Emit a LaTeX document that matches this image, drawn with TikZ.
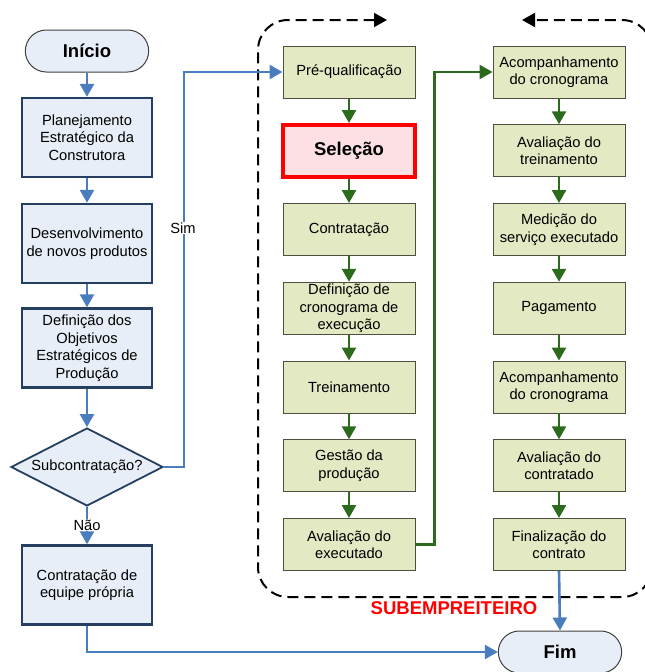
\documentclass[tikz,border=0pt]{standalone}
\usepackage{fontspec}
\setmainfont{Liberation Sans}
\usetikzlibrary{arrows.meta,shapes.geometric,shapes.misc}

\definecolor{leftfill}{HTML}{E8EEF7}
\definecolor{leftdraw}{HTML}{243F60}
\definecolor{flowblue}{HTML}{4A7DBE}
\definecolor{subfill}{HTML}{E3E9C3}
\definecolor{subdraw}{HTML}{4F4F3F}
\definecolor{flowgreen}{HTML}{2C6B1E}
\definecolor{selfill}{HTML}{FCE0E3}

\newcommand\flowtextstyle{\fontsize{14.7}{17.5}\selectfont}
\newcommand\flowtitlestyle{\fontsize{18.5}{22}\selectfont\bfseries}
\newcommand\leftx{87}
\newcommand\midx{349}
\newcommand\rightx{559}

\tikzset{
  leftbox/.style={draw=leftdraw, line width=2.4pt, fill=leftfill, minimum width=130pt,
    minimum height=79pt, align=center, inner sep=2pt, font=\flowtextstyle},
  terminal/.style={rounded rectangle, draw=black!75, line width=1pt, fill=leftfill,
    minimum width=130pt, minimum height=42pt, font=\flowtitlestyle},
  decision/.style={diamond, aspect=2, draw=leftdraw, line width=1.8pt, fill=leftfill,
    minimum width=152pt, minimum height=78pt, inner sep=0pt, font=\flowtextstyle},
  subbox/.style={draw=subdraw, line width=1pt, fill=subfill, minimum width=132pt,
    minimum height=52pt, align=center, inner sep=1pt, font=\flowtextstyle},
  selbox/.style={subbox, draw=red, line width=3.5pt, fill=selfill, font=\flowtitlestyle},
  bluearrow/.style={draw=flowblue, line width=2.6pt, -{Triangle[length=13pt,width=14pt]}},
  greenarrow/.style={draw=flowgreen, line width=2.6pt, -{Triangle[length=13pt,width=14pt]}},
  subframe/.style={draw=black, line width=2pt, dash pattern=on 11pt off 6pt, rounded corners=30pt,
    {Triangle[length=13pt,width=14pt]}-{Triangle[length=13pt,width=14pt]}},
  answer/.style={fill=white, inner sep=1pt, font=\flowtextstyle}
}

\begin{document}
\begin{tikzpicture}[x=1pt, y=-1pt]
  \useasboundingbox (0,0) rectangle (645,672);
  \draw[subframe] (387,20) -- (258,20) -- (258,597) -- (652,597) -- (652,20) -- (522,20);
  \node[text=red, font=\flowtitlestyle] (sublbl) at (454,608) {SUBEMPREITEIRO};

  \node[terminal] (inicio) at (\leftx,51) {Início};
  \node[leftbox] (planej) at (\leftx,137.5) {Planejamento\\Estratégico da\\Construtora};
  \node[leftbox] (desenv) at (\leftx,243.5) {Desenvolvimento\\de novos produtos};
  \node[leftbox] (objet) at (\leftx,348) {Definição dos\\Objetivos\\Estratégicos de\\Produção};
  \node[decision] (subc) at (\leftx,467) {Subcontratação?};
  \node[leftbox] (equipe) at (\leftx,585) {Contratação de\\equipe própria};
  \node[terminal] (fim) at (560,652) {Fim};

  \node[subbox] (preq) at (\midx,72) {Pré-qualificação};
  \node[selbox] (selec) at (\midx,150.75) {Seleção};
  \node[subbox] (contr) at (\midx,229.5) {Contratação};
  \node[subbox] (crono) at (\midx,308.25) {Definição de\\cronograma de\\execução};
  \node[subbox] (trein) at (\midx,387) {Treinamento};
  \node[subbox] (gestao) at (\midx,465.75) {Gestão da\\produção};
  \node[subbox] (avexec) at (\midx,544.5) {Avaliação do\\executado};

  \node[subbox] (acompa) at (\rightx,72) {Acompanhamento\\do cronograma};
  \node[subbox] (avtrein) at (\rightx,150.75) {Avaliação do\\treinamento};
  \node[subbox] (medicao) at (\rightx,229.5) {Medição do\\serviço executado};
  \node[subbox] (pagam) at (\rightx,308.25) {Pagamento};
  \node[subbox] (acompb) at (\rightx,387) {Acompanhamento\\do cronograma};
  \node[subbox] (avcontr) at (\rightx,465.75) {Avaliação do\\contratado};
  \node[subbox] (final) at (\rightx,544.5) {Finalização do\\contrato};

  \foreach \a/\b in {inicio/planej, planej/desenv, desenv/objet, objet/subc}
    \draw[bluearrow] (\a.south) -- (\b.north);
  \draw[bluearrow] (subc.south) -- (equipe.north) node[answer, pos=0.48] (naolbl) {Não};
  \draw[bluearrow] (subc.east) -- ++(20,0) |- (preq.west);
  \node[answer] (simlbl) at (183,228) {Sim};
  \draw[bluearrow] (equipe.south) |- (fim.west);
  \draw[bluearrow] (final.south) -- (fim.north);

  \foreach \a/\b in {preq/selec, selec/contr, contr/crono, crono/trein, trein/gestao, gestao/avexec,
      acompa/avtrein, avtrein/medicao, medicao/pagam, pagam/acompb, acompb/avcontr, avcontr/final}
    \draw[greenarrow] (\a.south) -- (\b.north);
  \draw[greenarrow] (avexec.east) -- ++(19,0) |- (acompa.west);
\end{tikzpicture}
\end{document}
